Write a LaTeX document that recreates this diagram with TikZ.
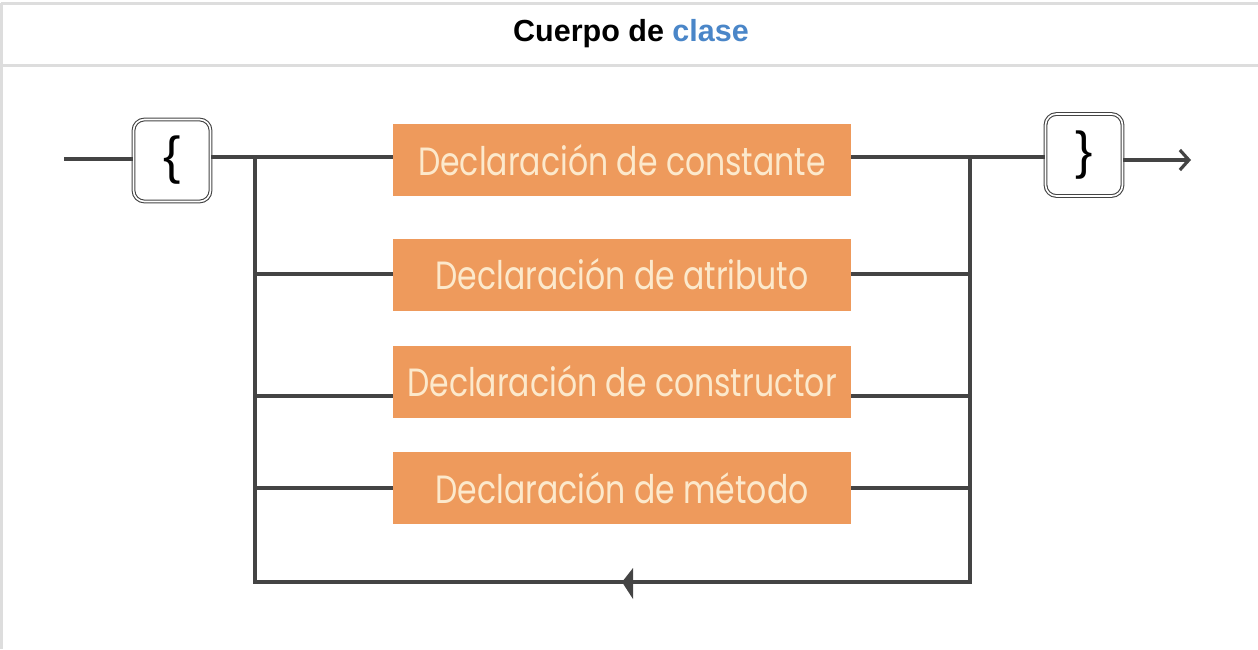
\documentclass[tikz,border=0pt]{standalone}
\usepackage{fontspec}
\setmainfont{Liberation Sans}
\newfontfamily\boxfont{Poppins}
\usetikzlibrary{arrows.meta}
\definecolor{frame}{HTML}{DDDDDD}
\definecolor{ln}{HTML}{444444}
\definecolor{orng}{HTML}{EE9A5C}
\definecolor{cream}{HTML}{FCE9CC}
\definecolor{titleblue}{HTML}{4A86C8}
\newcommand{\dtext}[1]{\scalebox{1}[1.25]{#1}}
\tikzset{
  decl/.style={fill=orng, draw=none, minimum width=458pt, minimum height=72pt, inner sep=0pt,
    text=cream, font=\boxfont\fontsize{31.5}{34}\selectfont},
  brace/.style={draw=ln, line width=1.1pt, double=white, double distance=1.6pt, rounded corners=11pt,
    minimum width=77pt, minimum height=82pt, inner sep=0pt, font=\fontsize{52}{54}\selectfont},
  wire/.style={draw=ln, line width=3.2pt},
}
\begin{document}
\begin{tikzpicture}[x=1pt,y=-1pt]
\useasboundingbox (0,0) rectangle (1258,649);
% frame
\draw[frame, line width=3pt] (1,3) -- (1258,3);
\draw[frame, line width=3pt] (1,3) -- (1,649);
\draw[frame, line width=3pt] (1,65) -- (1258,65);
\node[font=\bfseries\fontsize{30.5}{32}\selectfont] (title) at (631,34) {Cuerpo de \textcolor{titleblue}{clase}};
% boxes
\node[decl] (d1) at (622,160) {\dtext{Declaración de constante}};
\node[decl] (d2) at (622,274.5) {\dtext{Declaración de atributo}};
\node[decl] (d3) at (622,381.5) {\dtext{Declaración de constructor}};
\node[decl] (d4) at (622,488) {\dtext{Declaración de método}};
\node[brace] (lb) at (172,160.5) {\{};
\node[brace] (rb) at (1084,155) {\}};
% coordinates
\coordinate (start) at (64,159);
\coordinate (L1) at (255,157);
\coordinate (L2) at (255,274);
\coordinate (L3) at (255,396);
\coordinate (L4) at (255,488);
\coordinate (Lb) at (255,582);
\coordinate (R1) at (970,157);
\coordinate (R2) at (970,274);
\coordinate (R3) at (970,396);
\coordinate (R4) at (970,488);
\coordinate (Rb) at (970,582);
\coordinate (mid) at (622,582);
\coordinate (endp) at (1191,160);
% wires
\draw[wire] (start) -- (start -| lb.west);
\draw[wire] (lb.east |- L1) -- (L1 -| d1.west);
\draw[wire] (d1.east |- R1) -- (R1) -- (R1 -| rb.west);
\draw[wire, line join=miter] (L1) -- (Lb) -- (Rb) -- (R1);
\draw[wire] (L2) -- (L2 -| d2.west);
\draw[wire] (L3) -- (L3 -| d3.west);
\draw[wire] (L4) -- (L4 -| d4.west);
\draw[wire] (d2.east |- R2) -- (R2);
\draw[wire] (d3.east |- R3) -- (R3);
\draw[wire] (d4.east |- R4) -- (R4);
\draw[wire, -{Straight Barb[length=9pt,width=20pt,line width=3.2pt]}] (rb.east |- endp) -- (endp);
\fill[ln] (mid) -- ++(11,-14) -- ++(0,31) -- cycle;
\end{tikzpicture}
\end{document}
